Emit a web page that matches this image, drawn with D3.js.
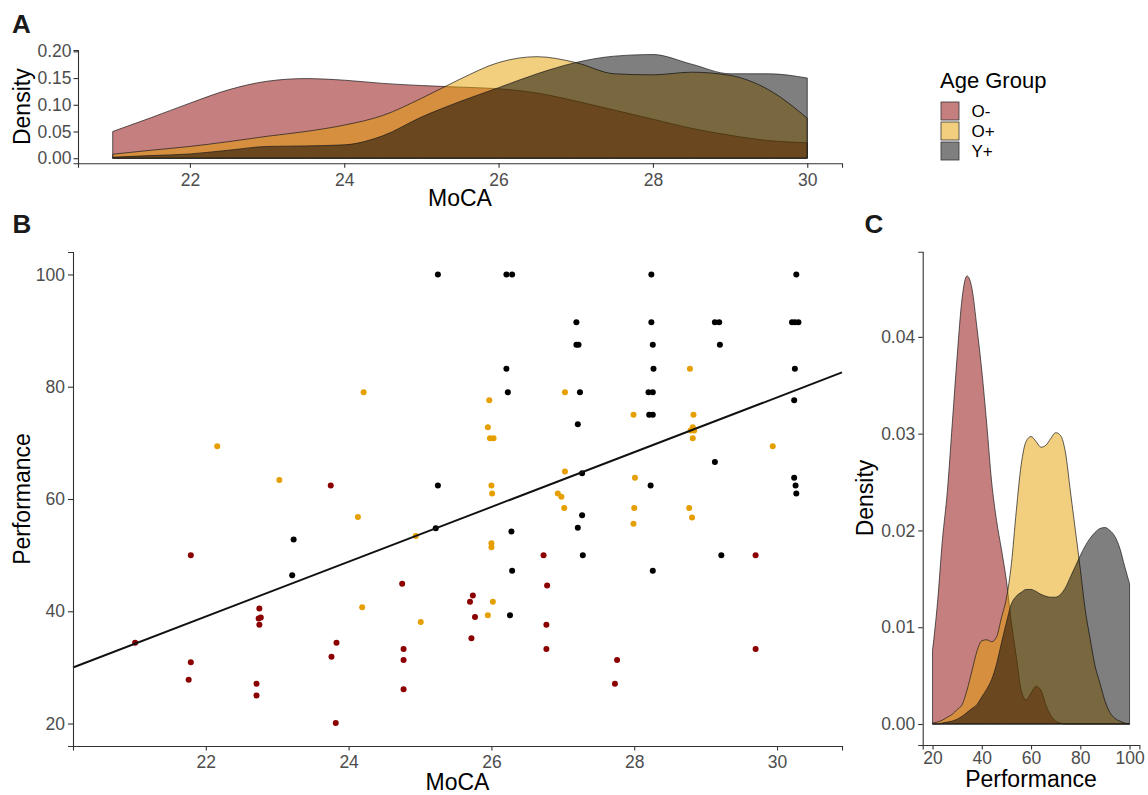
<!DOCTYPE html>
<html>
<head>
<meta charset="utf-8">
<script src="https://cdn.jsdelivr.net/npm/d3@7"></script>
<style>
  body { margin: 0; background: #fff; }
  text { font-family: "Liberation Sans", Arial, sans-serif; }
  .tick text { fill: #4d4d4d; font-size: 17.5px; }
  .tick line, .domain { stroke: #333; stroke-width: 1.1; }
</style>
</head>
<body>
<svg id="chart" width="1148" height="795"></svg>
<script>
// groups and colours
const groups = ["O-", "O+", "Y+"];
const groupColors = ["#8B0000", "#E69F00", "#000000"];

// panel A: MoCA density, read at half-point steps
const mocaGrid = [21, 21.5, 22, 22.5, 23, 23.5, 24, 24.5, 25, 25.5, 26, 26.5, 27, 27.5, 28, 28.5, 29, 29.5, 30];
const mocaDensOminus = [0.050, 0.076, 0.103, 0.128, 0.144, 0.149, 0.146, 0.140, 0.136, 0.133, 0.130, 0.122, 0.107, 0.090, 0.073, 0.056, 0.043, 0.033, 0.029];
const mocaDensOplus  = [0.0075, 0.015, 0.022, 0.031, 0.041, 0.050, 0.062, 0.080, 0.112, 0.148, 0.179, 0.190, 0.179, 0.158, 0.156, 0.161, 0.155, 0.128, 0.075];
const mocaDensYplus  = [0.002, 0.005, 0.008, 0.015, 0.022, 0.023, 0.025, 0.042, 0.077, 0.106, 0.132, 0.158, 0.179, 0.191, 0.194, 0.176, 0.158, 0.158, 0.150];

// panel C: Performance density
const perfGrid = [20, 22, 24, 26, 28, 30, 32, 34, 36, 38, 40, 42, 44, 46, 48, 50, 52, 54, 56, 58, 60,
                  62, 64, 66, 68, 70, 72, 74, 76, 78, 80, 82, 84, 86, 88, 90, 92, 94, 96, 98, 100];
const perfDensOminus = [0.0076, 0.0125, 0.019, 0.024, 0.031, 0.038, 0.044, 0.0463, 0.045, 0.041, 0.0365, 0.031, 0.025, 0.021, 0.018, 0.0148, 0.0105, 0.007, 0.0035, 0.0025, 0.0032,
                        0.0039, 0.0035, 0.002, 0.0009, 0.0003, 0.0001, 0, 0, 0, 0, 0, 0, 0, 0, 0, 0, 0, 0, 0, 0];
const perfDensOplus  = [0.0001, 0.0002, 0.0004, 0.0007, 0.001, 0.0015, 0.002, 0.0035, 0.0055, 0.0075, 0.0086, 0.0087, 0.0085, 0.009, 0.011, 0.013, 0.0165, 0.022, 0.0268, 0.0292, 0.0297,
                        0.0292, 0.0286, 0.0288, 0.0295, 0.0301, 0.0298, 0.028, 0.024, 0.020, 0.016, 0.0118, 0.0088, 0.006, 0.0042, 0.0024, 0.0012, 0.0006, 0.0003, 0.0001, 0];
const perfDensYplus  = [0, 0, 0.0001, 0.0002, 0.0003, 0.0005, 0.0008, 0.0012, 0.0016, 0.002, 0.0028, 0.0036, 0.0046, 0.0062, 0.0084, 0.0105, 0.0124, 0.0132, 0.0136, 0.0139, 0.0139,
                        0.0137, 0.0134, 0.0132, 0.0131, 0.0131, 0.0134, 0.0141, 0.0152, 0.0163, 0.0174, 0.0184, 0.0192, 0.0198, 0.0202, 0.0203, 0.0200, 0.0194, 0.0182, 0.0163, 0.0145];

// panel B: [MoCA, Performance] per participant
const ominusPoints = [[21.01,34.4],[21.79,50.0],[21.79,30.9],[21.76,27.8],[22.75,40.5],[22.74,38.7],[22.77,38.9],[22.75,37.6],[22.71,27.1],[22.71,25.0],
  [23.75,62.4],[23.83,34.4],[23.76,31.9],[23.82,20.1],[24.75,44.9],[24.77,33.3],[24.77,31.3],[24.77,26.1],[25.74,42.8],[25.70,41.7],
  [25.77,39.0],[25.72,35.2],[26.73,50.0],[26.78,44.6],[26.77,37.6],[26.77,33.3],[27.76,31.3],[27.73,27.1],[29.70,50.0],[29.70,33.3]];
const oplusPoints = [[22.16,69.4],[23.03,63.4],[24.13,56.8],[24.21,79.0],[24.19,40.7],[24.94,53.4],[25.01,38.1],[25.97,77.6],[25.95,72.8],[25.98,70.8],
  [26.03,70.8],[26.00,62.4],[26.01,61.0],[26.00,52.1],[26.00,51.4],[26.02,41.7],[25.95,39.3],[26.93,61.0],[26.98,60.4],[27.02,58.4],
  [27.03,64.9],[27.03,79.0],[27.99,75.0],[28.01,63.8],[28.00,58.4],[27.99,55.6],[28.78,83.2],[28.83,75.0],[28.82,72.8],[28.84,72.2],
  [28.79,72.2],[28.82,70.8],[28.77,58.4],[28.81,56.7],[29.94,69.4]];
const yplusPoints = [[23.23,52.8],[23.21,46.4],[25.25,100],[25.25,62.4],[25.22,54.8],[26.21,100],[26.29,100],[26.21,83.2],[26.23,79.0],[26.28,54.2],
  [26.29,47.2],[26.26,39.3],[27.19,91.5],[27.19,87.5],[27.22,87.5],[27.24,79.0],[27.21,73.3],[27.27,64.6],[27.27,57.1],[27.21,54.9],
  [27.28,50.0],[28.24,100],[28.24,91.5],[28.26,87.5],[28.27,83.2],[28.20,79.0],[28.26,79.0],[28.21,75.0],[28.26,75.0],[28.23,62.4],
  [28.26,47.2],[29.13,91.5],[29.19,91.5],[29.20,87.5],[29.13,66.6],[29.22,50.0],[30.27,100],[30.21,91.5],[30.25,91.5],[30.30,91.5],
  [30.25,83.2],[30.24,77.6],[30.24,63.8],[30.26,62.4],[30.27,61.0]];

// linear fit Performance ~ MoCA
const fitIntercept = -68.3;
const fitSlope = 4.88;

const svg = d3.select("#chart");

// ---------- panel A ----------
const xA = d3.scaleLinear().domain([20.55, 30.45]).range([78, 842]);
const yA = d3.scaleLinear().domain([-0.0095, 0.2025]).range([163.3, 50]);
const mocaDens = [mocaDensOminus, mocaDensOplus, mocaDensYplus];

const areaA = d3.area()
    .x(d => xA(d[0]))
    .y0(yA(0))
    .y1(d => yA(d[1]))
    .curve(d3.curveMonotoneX);

const gA = svg.append("g");
mocaDens.forEach((vals, i) => {
    gA.append("path")
        .datum(mocaGrid.map((m, j) => [m, vals[j]]))
        .attr("d", areaA)
        .attr("fill", groupColors[i])
        .attr("fill-opacity", 0.5)
        .attr("stroke", "#1a1a1a")
        .attr("stroke-width", 0.7);
});

svg.append("g").attr("transform", "translate(0,163.3)")
    .call(d3.axisBottom(xA).tickValues([22, 24, 26, 28, 30]).tickSize(4.5).tickPadding(6));
svg.append("g").attr("transform", "translate(78,0)")
    .call(d3.axisLeft(yA).tickValues([0, 0.05, 0.1, 0.15, 0.2]).tickFormat(d3.format(".2f")).tickSize(4.5).tickPadding(2));

// ---------- panel B ----------
const xB = d3.scaleLinear().domain([20.14, 30.91]).range([73, 842]);
const yB = d3.scaleLinear().domain([16, 104]).range([746, 252]);
const pointSets = [ominusPoints, oplusPoints, yplusPoints];

const gB = svg.append("g");
pointSets.forEach((pts, i) => {
    gB.selectAll(".pt" + i).data(pts)
        .join("circle")
        .attr("class", "pt" + i)
        .attr("cx", d => xB(d[0]))
        .attr("cy", d => yB(d[1]))
        .attr("r", 3)
        .attr("fill", groupColors[i]);
});

//fit line across the whole panel
const fitX = xB.domain();
gB.append("line")
    .attr("x1", xB(fitX[0])).attr("y1", yB(fitIntercept + fitSlope * fitX[0]))
    .attr("x2", xB(fitX[1])).attr("y2", yB(fitIntercept + fitSlope * fitX[1]))
    .attr("stroke", "#111")
    .attr("stroke-width", 1.9);

svg.append("g").attr("transform", "translate(0,746)")
    .call(d3.axisBottom(xB).tickValues([22, 24, 26, 28, 30]).tickSize(4.5).tickPadding(5));
svg.append("g").attr("transform", "translate(73,0)")
    .call(d3.axisLeft(yB).tickValues([20, 40, 60, 80, 100]).tickSize(5).tickPadding(3));

// ---------- panel C ----------
const xC = d3.scaleLinear().domain([16, 104]).range([922.7, 1139.4]);
const yC = d3.scaleLinear().domain([-0.00217, 0.0488]).range([745, 251.7]);
const perfDens = [perfDensOminus, perfDensOplus, perfDensYplus];

const areaC = d3.area()
    .x(d => xC(d[0]))
    .y0(yC(0))
    .y1(d => yC(d[1]))
    .curve(d3.curveMonotoneX);

const gC = svg.append("g");
perfDens.forEach((vals, i) => {
    gC.append("path")
        .datum(perfGrid.map((p, j) => [p, vals[j]]))
        .attr("d", areaC)
        .attr("fill", groupColors[i])
        .attr("fill-opacity", 0.5)
        .attr("stroke", "#1a1a1a")
        .attr("stroke-width", 0.7);
});

svg.append("g").attr("transform", "translate(0,745)")
    .call(d3.axisBottom(xC).tickValues([20, 40, 60, 80, 100]).tickSize(4.5).tickPadding(2));
svg.append("g").attr("transform", "translate(922.7,0)")
    .call(d3.axisLeft(yC).tickValues([0, 0.01, 0.02, 0.03, 0.04]).tickFormat(d3.format(".2f")).tickSize(4.5).tickPadding(3));

svg.selectAll(".domain").attr("stroke", "#333");

// ---------- titles ----------
const title = (x, y, str, rot) => svg.append("text")
    .attr("transform", `translate(${x},${y})` + (rot ? " rotate(-90)" : ""))
    .attr("text-anchor", "middle")
    .attr("font-size", 23)
    .attr("fill", "#000")
    .text(str);

title(460, 206, "MoCA");
title(30, 106.7, "Density", true);
title(457.5, 790, "MoCA");
title(30, 499, "Performance", true);
title(1031, 787, "Performance");
title(873, 498, "Density", true);

// panel letters
[["A", 12, 33.3], ["B", 12.5, 233.3], ["C", 864.5, 233.3]].forEach(([t, x, y]) => {
    svg.append("text")
        .attr("x", x).attr("y", y)
        .attr("font-size", 26)
        .attr("font-weight", "bold")
        .attr("fill", "#1a1a1a")
        .text(t);
});

// ---------- legend ----------
const legend = svg.append("g");
legend.append("text")
    .attr("x", 940).attr("y", 88.3)
    .attr("font-size", 22)
    .text("Age Group");

groups.forEach((g, i) => {
    legend.append("rect")
        .attr("x", 941).attr("y", 102 + i * 20)
        .attr("width", 18).attr("height", 18)
        .attr("fill", groupColors[i])
        .attr("fill-opacity", 0.5)
        .attr("stroke", "#333")
        .attr("stroke-width", 0.8);
    legend.append("text")
        .attr("x", 971.5).attr("y", 111 + i * 20)
        .attr("dy", "0.35em")
        .attr("font-size", 17)
        .text(g);
});
</script>
</body>
</html>
